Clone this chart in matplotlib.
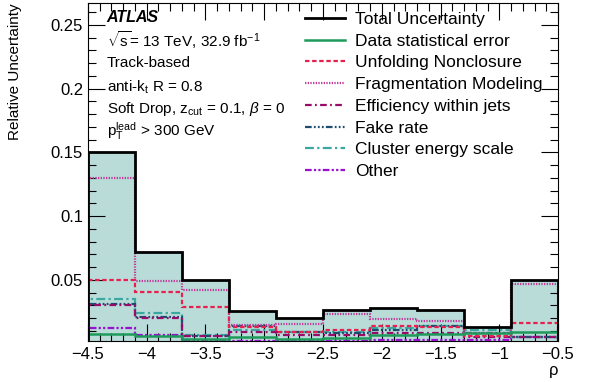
import numpy as np
from matplotlib import pyplot as plt
from matplotlib.ticker import MultipleLocator, FixedLocator, FixedFormatter

plt.rcParams["font.family"] = ["Liberation Sans", "DejaVu Sans"]
plt.rcParams["mathtext.fontset"] = "custom"
plt.rcParams["mathtext.rm"] = "Liberation Sans"
plt.rcParams["mathtext.it"] = "Liberation Sans:italic"

# bin edges in rho
edges = [-4.5, -4.1, -3.7, -3.3, -2.9, -2.5, -2.1, -1.7, -1.3, -0.9, -0.5]

total = [0.150, 0.0717, 0.050, 0.0255, 0.0198, 0.0265, 0.0278, 0.0265, 0.0127, 0.050]
stat = [0.0074, 0.0058, 0.004, 0.005, 0.004, 0.0045, 0.0066, 0.0074, 0.0084, 0.0092]
unfold = [0.050, 0.0407, 0.0285, 0.013, 0.009, 0.011, 0.0136, 0.013, 0.0058, 0.016]
frag = [0.130, 0.049, 0.042, 0.015, 0.0157, 0.0229, 0.0195, 0.0177, 0.0084, 0.047]
eff = [0.030, 0.020, 0.006, 0.009, 0.0066, 0.007, 0.0084, 0.0084, 0.005, 0.005]
fake = [0.031, 0.021, 0.006, 0.0135, 0.009, 0.0084, 0.011, 0.0136, 0.008, 0.005]
cluster = [0.035, 0.024, 0.007, 0.0105, 0.009, 0.0095, 0.012, 0.0136, 0.0105, 0.0055]
other = [0.012, 0.0066, 0.002, 0.002, 0.002, 0.002, 0.0027, 0.0025, 0.0027, 0.005]

x_ticks = [-4.5, -4, -3.5, -3, -2.5, -2, -1.5, -1, -0.5]
x_labels = ["\u22124.5", "\u22124", "\u22123.5", "\u22123", "\u22122.5", "\u22122", "\u22121.5", "\u22121", "\u22120.5"]
y_ticks = [0.05, 0.1, 0.15, 0.2, 0.25]
y_labels = ["0.05", "0.1", "0.15", "0.2", "0.25"]

fig = plt.figure(figsize=(5.92, 3.82), dpi=100)
ax = fig.add_axes([0.1486, 0.107, 0.794, 0.885])

ax.stairs(total, edges, fill=True, color="#b9dcd9", zorder=1)

series = [
    (total, "Total Uncertainty", "black", "-", 2.0),
    (stat, "Data statistical error", "#1e9a5a", "-", 1.8),
    (unfold, "Unfolding Nonclosure", "#e8204e", (0, (2.0, 1.2)), 1.6),
    (frag, "Fragmentation Modeling", "#c03a9a", (0, (0.6, 0.6)), 1.6),
    (eff, "Efficiency within jets", "#9a0a6a", (0, (3, 1.5, 0.8, 1.5)), 1.6),
    (fake, "Fake rate", "#1c4d70", (0, (3, 1, 0.8, 1, 0.8, 1, 0.8, 1)), 1.6),
    (cluster, "Cluster energy scale", "#3aa8a0", (0, (4, 1.5, 1, 1.5)), 1.6),
    (other, "Other", "#9a10d0", (0, (3, 1, 1, 1, 1, 1)), 1.6),
]

handles = []
for vals, label, col, ls, lw in series[::-1]:
    ax.stairs(vals, edges, color=col, linestyle=ls, linewidth=lw, zorder=3)
for vals, label, col, ls, lw in series:
    (h,) = ax.plot([], [], color=col, linestyle=ls, linewidth=lw, label=label)
    handles.append(h)

ax.set_xlim(-4.5, -0.5)
ax.set_ylim(0.002, 0.267)

ax.xaxis.set_major_locator(FixedLocator(x_ticks))
ax.xaxis.set_major_formatter(FixedFormatter(x_labels))
ax.xaxis.set_minor_locator(MultipleLocator(0.1))
ax.yaxis.set_major_locator(FixedLocator(y_ticks))
ax.yaxis.set_major_formatter(FixedFormatter(y_labels))
ax.yaxis.set_minor_locator(MultipleLocator(0.01))
ax.tick_params(which="both", direction="in", top=True, right=True, labelsize=12)
ax.tick_params(which="major", length=12, width=0.8)
ax.tick_params(which="minor", length=6, width=0.8)
ax.tick_params(axis="x", pad=4)

ax.set_ylabel("Relative Uncertainty", fontsize=11, loc="top")
ax.yaxis.set_label_coords(-0.14, 1.0)
ax.set_xlabel("\u03c1", fontsize=12, loc="right", labelpad=1)

ax.legend(handles=handles, loc="upper left", bbox_to_anchor=(0.44, 1.005),
          frameon=False, fontsize=12.5, handlelength=2.3, handletextpad=0.55,
          labelspacing=0.38, borderaxespad=0.2)

tx = 0.04
ax.text(tx, 0.956, "ATLAS", transform=ax.transAxes, fontsize=11.5,
        fontweight="bold", style="italic", va="center")
ax.text(tx, 0.890, r"$\sqrt{\mathrm{s}}$= 13 TeV, 32.9 fb$^{-1}$", transform=ax.transAxes,
        fontsize=11, va="center")
ax.text(tx, 0.822, "Track-based", transform=ax.transAxes, fontsize=11, va="center")
ax.text(tx, 0.751, r"anti-k$_{\mathrm{t}}$ R = 0.8", transform=ax.transAxes,
        fontsize=11, va="center")
ax.text(tx, 0.687, r"Soft Drop, z$_{\mathrm{cut}}$ = 0.1, $\beta$ = 0",
        transform=ax.transAxes, fontsize=11, va="center")
ax.text(tx, 0.62, r"p$_{\mathrm{T}}^{\mathrm{lead}}$ > 300 GeV", transform=ax.transAxes,
        fontsize=11, va="center")

fig.savefig("out.png", dpi=100)
